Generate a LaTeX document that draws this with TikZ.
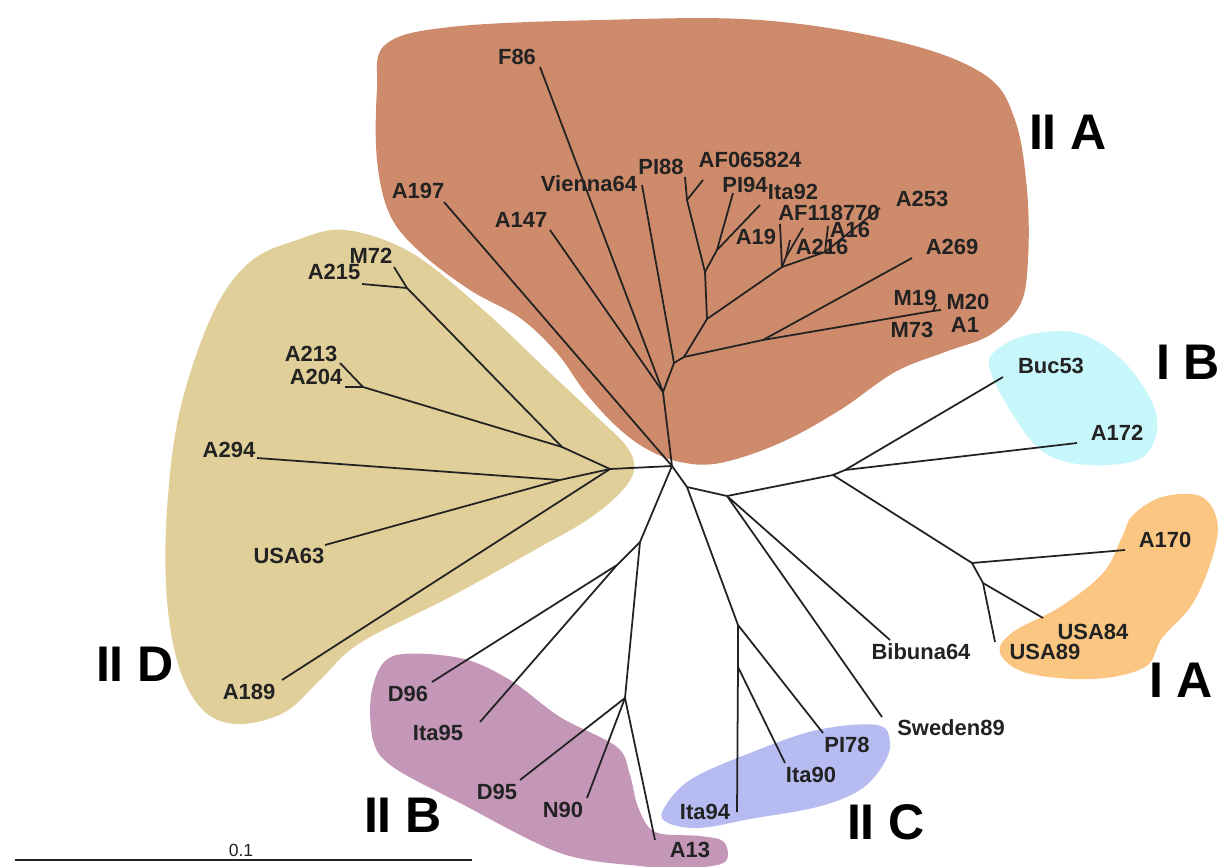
\documentclass[tikz,border=0pt]{standalone}
\usepackage{fontspec}
\setmainfont{Liberation Sans}
\definecolor{cIIA}{RGB}{206,139,107}
\definecolor{cIID}{RGB}{225,207,153}
\definecolor{cIIB}{RGB}{196,151,184}
\definecolor{cIIC}{RGB}{182,188,242}
\definecolor{cIB}{RGB}{200,247,251}
\definecolor{cIA}{RGB}{251,198,130}
\definecolor{ink}{RGB}{34,34,34}
\tikzset{
  br/.style={draw=ink,line width=1pt},
  lab/.style={font=\bfseries\fontsize{12.5}{12.5}\selectfont,text=ink,inner sep=0pt},
  grp/.style={font=\bfseries\fontsize{28.5}{28.5}\selectfont,text=black,inner sep=0pt},
}
\begin{document}
\begin{tikzpicture}[x=0.02cm,y=-0.02cm]
\useasboundingbox (0,0) rectangle (1221,866);
\fill[white] (0,0) rectangle (1221,866);
% blobs
\fill[cIIA] plot[smooth cycle,tension=0.6] coordinates {(385,45) (450,27) (600,20) (760,20) (900,42) (985,75) (1015,120) (1027,190) (1028,260) (1020,305) (990,335) (945,352) (895,372) (840,410) (780,443) (720,463) (680,462) (645,448) (615,425) (585,392) (557,353) (520,318) (470,290) (420,252) (390,215) (377,160) (377,90)};
\fill[cIID] plot[smooth cycle,tension=0.6] coordinates {(345,230) (410,252) (480,307) (547,370) (597,417) (627,447) (634,470) (620,493) (587,520) (540,547) (450,597) (360,643) (320,680) (285,712) (240,724) (205,712) (180,670) (167,600) (167,510) (180,410) (213,313) (250,262) (297,240)};
\fill[cIIB] plot[smooth cycle,tension=0.55] coordinates {(393,656) (460,658) (510,680) (560,717) (617,747) (630,775) (638,807) (655,832) (700,836) (724,842) (725,862) (690,868) (640,866) (560,853) (460,803) (393,767) (373,740) (372,690)};
\fill[cIIC] plot[smooth cycle,tension=0.6] coordinates {(663,810) (690,780) (750,753) (817,730) (877,725) (890,742) (883,765) (860,790) (817,807) (750,819) (700,828) (668,823)};
\fill[cIB] plot[smooth cycle,tension=0.6] coordinates {(993,353) (1027,335) (1077,333) (1120,358) (1150,398) (1157,430) (1143,457) (1108,465) (1067,462) (1037,447) (1010,410) (991,373)};
\fill[cIA] plot[smooth cycle,tension=0.6] coordinates {(1133,515) (1162,497) (1200,496) (1217,520) (1213,555) (1193,603) (1162,638) (1145,667) (1093,679) (1027,673) (1000,653) (1013,632) (1060,607) (1103,573) (1122,537)};
% internal coordinates
\coordinate (C) at (672,466);
\coordinate (N1) at (663,392); \coordinate (N2) at (674,363); \coordinate (N3) at (684,357);
\coordinate (N4) at (707,319); \coordinate (N7) at (705,272); \coordinate (N9) at (687,200);
\coordinate (N10) at (717,250); \coordinate (N8) at (782,267); \coordinate (N8a) at (786,257);
\coordinate (N11) at (825,252); \coordinate (N5) at (763,340); \coordinate (Nm) at (933,311);
\coordinate (tF86) at (540,67); \coordinate (tA147) at (550,230); \coordinate (tA197) at (444,202);
\coordinate (tV64) at (642,185); \coordinate (tPI88) at (685,177); \coordinate (tAF06) at (703,180);
\coordinate (tPI94) at (733,193); \coordinate (tIta92) at (760,205); \coordinate (tA19) at (780,224);
\coordinate (tAFa) at (790,240); \coordinate (tAF11) at (803,228); \coordinate (tA16) at (828,226);
\coordinate (tA253) at (880,208); \coordinate (tA269) at (912,258); \coordinate (tM19) at (936,304);
\coordinate (tMend) at (941,310);
\coordinate (D0) at (610,469); \coordinate (Da) at (562,447); \coordinate (Dm) at (407,288);
\coordinate (Dn) at (363,387); \coordinate (Db) at (560,480);
\coordinate (tM72) at (394,267); \coordinate (tA215) at (362,284); \coordinate (tA213) at (340,363);
\coordinate (tA204) at (345,387); \coordinate (tA294) at (257,458); \coordinate (tUSA63) at (325,545);
\coordinate (tA189) at (282,680);
\coordinate (E1) at (687,487); \coordinate (E2) at (727,496); \coordinate (Ic) at (738,625);
\coordinate (Id) at (738,667);
\coordinate (tIta94) at (737,812); \coordinate (tPI78) at (823,733); \coordinate (tIta90) at (785,763);
\coordinate (tBib) at (890,640); \coordinate (tSwe) at (882,717);
\coordinate (B0) at (640,542); \coordinate (B1) at (617,565); \coordinate (B2) at (625,698);
\coordinate (tD96) at (432,682); \coordinate (tIta95) at (480,722); \coordinate (tD95) at (520,780);
\coordinate (tN90) at (587,798); \coordinate (tA13) at (655,840);
\coordinate (I0) at (833,475); \coordinate (I1) at (845,470); \coordinate (I2) at (972,563);
\coordinate (I3) at (983,583);
\coordinate (tBuc) at (1003,377); \coordinate (tA172) at (1077,443); \coordinate (tA170) at (1125,550);
\coordinate (tUSA84) at (1043,618); \coordinate (tUSA89) at (995,642);
% branches IIA
\draw[br] (C) -- (N1); \draw[br] (C) -- (tA197);
\draw[br] (N1) -- (tF86); \draw[br] (N1) -- (tA147); \draw[br] (N1) -- (N2);
\draw[br] (N2) -- (tV64); \draw[br] (N2) -- (N3);
\draw[br] (N3) -- (N4); \draw[br] (N3) -- (N5);
\draw[br] (N4) -- (N7); \draw[br] (N4) -- (N8);
\draw[br] (N7) -- (N9); \draw[br] (N7) -- (N10);
\draw[br] (N9) -- (tPI88); \draw[br] (N9) -- (tAF06);
\draw[br] (N10) -- (tPI94); \draw[br] (N10) -- (tIta92);
\draw[br] (N8) -- (tA19); \draw[br] (N8) -- (N8a);
\draw[br] (N8a) -- (tAFa); \draw[br] (N8a) -- (tAF11);
\draw[br] (N8) -- (N11); \draw[br] (N11) -- (tA16); \draw[br] (N11) -- (tA253);
\draw[br] (N5) -- (tA269); \draw[br] (N5) -- (Nm);
\draw[br] (Nm) -- (tM19); \draw[br] (Nm) -- (tMend);
% IID
\draw[br] (C) -- (D0);
\draw[br] (D0) -- (Da); \draw[br] (D0) -- (Db); \draw[br] (D0) -- (tA189);
\draw[br] (Da) -- (Dm); \draw[br] (Da) -- (Dn);
\draw[br] (Dm) -- (tM72); \draw[br] (Dm) -- (tA215);
\draw[br] (Dn) -- (tA213); \draw[br] (Dn) -- (tA204);
\draw[br] (Db) -- (tA294); \draw[br] (Db) -- (tUSA63);
% lower
\draw[br] (C) -- (E1); \draw[br] (E1) -- (E2); \draw[br] (E1) -- (Ic);
\draw[br] (Ic) -- (tPI78); \draw[br] (Ic) -- (Id);
\draw[br] (Id) -- (tIta90); \draw[br] (Id) -- (tIta94);
\draw[br] (E2) -- (tBib); \draw[br] (E2) -- (tSwe); \draw[br] (E2) -- (I0);
\draw[br] (C) -- (B0); \draw[br] (B0) -- (B1); \draw[br] (B0) -- (B2);
\draw[br] (B1) -- (tD96); \draw[br] (B1) -- (tIta95);
\draw[br] (B2) -- (tD95); \draw[br] (B2) -- (tN90); \draw[br] (B2) -- (tA13);
\draw[br] (I0) -- (I1); \draw[br] (I0) -- (I2);
\draw[br] (I1) -- (tBuc); \draw[br] (I1) -- (tA172);
\draw[br] (I2) -- (tA170); \draw[br] (I2) -- (I3);
\draw[br] (I3) -- (tUSA84); \draw[br] (I3) -- (tUSA89);
% labels
\node[lab] (lF86) at (517,57) {F86};
\node[lab] (lA197) at (418,191) {A197};
\node[lab] (lA147) at (521,220) {A147};
\node[lab] (lV64) at (589,184) {Vienna64};
\node[lab] (lPI88) at (661,167) {PI88};
\node[lab] (lAF06) at (750,160) {AF065824};
\node[lab] (lPI94) at (745,185) {PI94};
\node[lab] (lIta92) at (793,192) {Ita92};
\node[lab] (lAF11) at (829,213) {AF118770};
\node[lab] (lA253) at (922,199) {A253};
\node[lab] (lA19) at (756,237) {A19};
\node[lab] (lA16) at (850,230) {A16};
\node[lab] (lA216) at (822,247) {A216};
\node[lab] (lA269) at (952,247) {A269};
\node[lab] (lM19) at (915,298) {M19};
\node[lab] (lM20) at (968,302) {M20};
\node[lab] (lM73) at (912,330) {M73};
\node[lab] (lA1) at (965,325) {A1};
\node[lab] (lM72) at (371,256) {M72};
\node[lab] (lA215) at (334,272) {A215};
\node[lab] (lA213) at (311,354) {A213};
\node[lab] (lA204) at (316,377) {A204};
\node[lab] (lA294) at (229,450) {A294};
\node[lab] (lUSA63) at (289,556) {USA63};
\node[lab] (lA189) at (249,692) {A189};
\node[lab] (lD96) at (408,694) {D96};
\node[lab] (lIta95) at (438,733) {Ita95};
\node[lab] (lD95) at (497,792) {D95};
\node[lab] (lN90) at (563,810) {N90};
\node[lab] (lA13) at (690,850) {A13};
\node[lab] (lBib) at (921,652) {Bibuna64};
\node[lab] (lSwe) at (951,728) {Sweden89};
\node[lab] (lPI78) at (847,745) {PI78};
\node[lab] (lIta90) at (811,775) {Ita90};
\node[lab] (lIta94) at (705,812) {Ita94};
\node[lab] (lBuc) at (1051,366) {Buc53};
\node[lab] (lA172) at (1117,433) {A172};
\node[lab] (lA170) at (1165,540) {A170};
\node[lab] (lUSA84) at (1093,632) {USA84};
\node[lab] (lUSA89) at (1045,652) {USA89};
% group labels
\node[grp] (gIIA) at (1068,132) {II A};
\node[grp] (gIB) at (1188,362) {I B};
\node[grp] (gIA) at (1181,680) {I A};
\node[grp] (gIIC) at (886,822) {II C};
\node[grp] (gIIB) at (403,815) {II B};
\node[grp] (gIID) at (135,664) {II D};
% scale bar
\coordinate (sb1) at (15,860); \coordinate (sb2) at (472,860);
\draw[draw=ink,line width=1pt] (sb1) -- (sb2);
\node[font=\fontsize{10}{10}\selectfont,text=ink,inner sep=0pt] (sbl) at (241,850) {0.1};
\end{tikzpicture}
\end{document}
